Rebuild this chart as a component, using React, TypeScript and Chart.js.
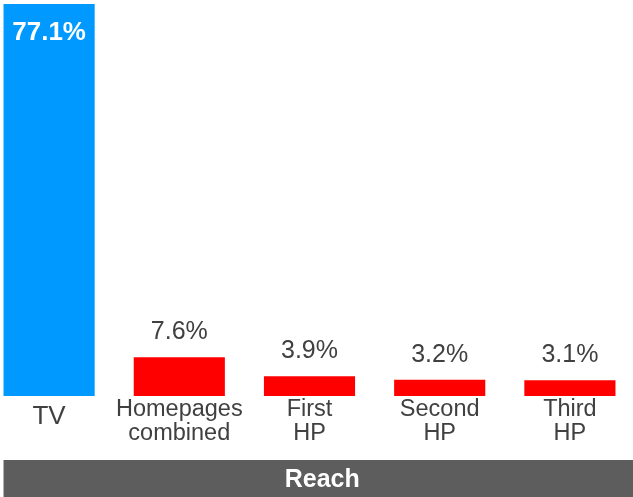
import React, { useEffect, useRef } from "react";
import { Chart, registerables } from "chart.js";

Chart.register(...registerables);

const categories: (string | string[])[] = [
  "TV",
  ["Homepages", "combined"],
  ["First", "HP"],
  ["Second", "HP"],
  ["Third", "HP"],
];
const reachValues = [77.1, 7.6, 3.9, 3.2, 3.1];
const valueLabels = ["77.1%", "7.6%", "3.9%", "3.2%", "3.1%"];
const barColors = ["#0099ff", "#ff0000", "#ff0000", "#ff0000", "#ff0000"];
const axisTitle = "Reach";

const FONT = "'Liberation Sans', Arial, sans-serif";

const labelsPlugin = {
  id: "valueLabels",
  afterDatasetsDraw(chart: any) {
    const ctx = chart.ctx;
    const meta = chart.getDatasetMeta(0);
    ctx.save();
    ctx.textAlign = "center";
    ctx.textBaseline = "alphabetic";
    meta.data.forEach((bar: any, i: number) => {
      if (i === 0) {
        ctx.fillStyle = "#ffffff";
        ctx.font = `bold 26px ${FONT}`;
        ctx.fillText(valueLabels[i], bar.x, bar.y + 36);
      } else {
        ctx.fillStyle = "#404040";
        ctx.font = `25px ${FONT}`;
        ctx.fillText(valueLabels[i], bar.x, bar.y - 18);
      }
    });
    ctx.restore();
  },
};

const bandPlugin = {
  id: "reachBand",
  afterDraw(chart: any) {
    const ctx = chart.ctx;
    const meta = chart.getDatasetMeta(0);
    const first = meta.data[0];
    const left = first.x - first.width / 2;
    const right = chart.width;
    const top = chart.height - 37;
    ctx.save();
    ctx.fillStyle = "#5d5d5d";
    ctx.fillRect(left, top, right - left, chart.height - top);
    ctx.fillStyle = "#ffffff";
    ctx.font = `bold 25px ${FONT}`;
    ctx.textAlign = "center";
    ctx.textBaseline = "alphabetic";
    ctx.fillText(axisTitle, (left + right) / 2 + 3, chart.height - 10);
    ctx.restore();
  },
};

export default function App() {
  const canvasRef = useRef<HTMLCanvasElement | null>(null);

  useEffect(() => {
    document.body.style.margin = "0";
    const chart = new Chart(canvasRef.current as HTMLCanvasElement, {
      type: "bar",
      data: {
        labels: categories,
        datasets: [
          {
            data: reachValues,
            backgroundColor: barColors,
            borderWidth: 0,
            barPercentage: 0.7,
            categoryPercentage: 1,
          },
        ],
      },
      options: {
        animation: false,
        responsive: true,
        maintainAspectRatio: false,
        layout: { padding: { top: 4, bottom: 26, left: 0, right: 0 } },
        plugins: {
          legend: { display: false },
          tooltip: { enabled: false },
        },
        scales: {
          x: {
            grid: { display: false, drawTicks: false },
            border: { display: false },
            ticks: {
              padding: 14,
              color: "#404040",
              maxRotation: 0,
              autoSkip: false,
              crossAlign: "center",
              font: (c: any) =>
                c.index === 0
                  ? { family: FONT, size: 26, lineHeight: 1.27 }
                  : { family: FONT, size: 23.5, lineHeight: 1 },
            },
          },
          y: {
            display: false,
            min: 0,
            max: 77.1,
          },
        },
      },
      plugins: [labelsPlugin, bandPlugin],
    });
    return () => chart.destroy();
  }, []);

  return (
    <div style={{ position: "relative", width: 633, height: 497, overflow: "hidden", background: "#ffffff" }}>
      <div style={{ position: "absolute", left: -16, top: 0, width: 651, height: 497 }}>
        <canvas ref={canvasRef} />
      </div>
    </div>
  );
}
